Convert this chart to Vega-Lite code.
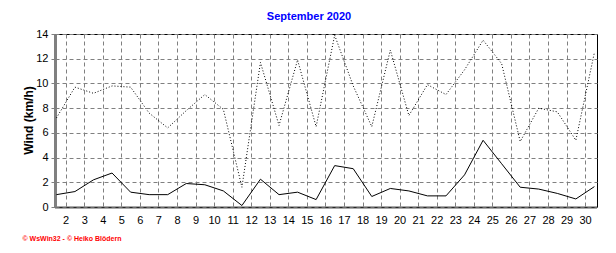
{
  "$schema": "https://vega.github.io/schema/vega-lite/v6.json",
  "autosize": "none",
  "width": 542,
  "height": 173,
  "padding": {"left": 55, "top": 34, "right": 19, "bottom": 46},
  "background": "white",
  "title": {
    "text": "September 2020",
    "color": "#0000FF",
    "font": "Liberation Sans",
    "fontSize": 11,
    "fontWeight": "bold",
    "anchor": "middle",
    "dx": -17,
    "offset": 6
  },
  "config": {
    "view": {"stroke": "#000000", "strokeWidth": 1},
    "axis": {
      "labelFont": "Liberation Sans",
      "labelFontSize": 11,
      "labelColor": "#000000",
      "labelOverlap": false,
      "labelFlush": false,
      "titleFont": "Liberation Sans",
      "gridColor": "#808080",
      "gridDash": [4, 3],
      "gridOpacity": 1,
      "gridWidth": 1
    },
    "axisY": {
      "tickColor": "#808080",
      "tickSize": 4,
      "labelPadding": 3,
      "labelBaseline": "middle",
      "domainColor": "#808080",
      "domainWidth": 3,
      "titleFontSize": 12,
      "titleFontWeight": "bold",
      "titleColor": "#000000",
      "titleAngle": -90,
      "titleAlign": "center",
      "titleBaseline": "middle",
      "titleX": -27,
      "titleY": 86
    }
  },
  "datasets": {
    "wind": [
      {"day": 1, "gust": 7.2, "avg": 1.0},
      {"day": 2, "gust": 9.7, "avg": 1.25},
      {"day": 3, "gust": 9.2, "avg": 2.2},
      {"day": 4, "gust": 9.8, "avg": 2.75},
      {"day": 5, "gust": 9.7, "avg": 1.2},
      {"day": 6, "gust": 7.6, "avg": 1.0},
      {"day": 7, "gust": 6.4, "avg": 1.0},
      {"day": 8, "gust": 7.8, "avg": 1.9},
      {"day": 9, "gust": 9.1, "avg": 1.8},
      {"day": 10, "gust": 7.9, "avg": 1.3},
      {"day": 11, "gust": 1.6, "avg": 0.12},
      {"day": 12, "gust": 11.7, "avg": 2.25},
      {"day": 13, "gust": 6.6, "avg": 1.0},
      {"day": 14, "gust": 11.9, "avg": 1.2},
      {"day": 15, "gust": 6.5, "avg": 0.6},
      {"day": 16, "gust": 13.9, "avg": 3.35},
      {"day": 17, "gust": 9.8, "avg": 3.1},
      {"day": 18, "gust": 6.5, "avg": 0.85},
      {"day": 19, "gust": 12.7, "avg": 1.5},
      {"day": 20, "gust": 7.4, "avg": 1.3},
      {"day": 21, "gust": 9.9, "avg": 0.9},
      {"day": 22, "gust": 9.1, "avg": 0.9},
      {"day": 23, "gust": 11.1, "avg": 2.6},
      {"day": 24, "gust": 13.5, "avg": 5.4},
      {"day": 25, "gust": 11.6, "avg": 3.5},
      {"day": 26, "gust": 5.3, "avg": 1.6},
      {"day": 27, "gust": 8.0, "avg": 1.45},
      {"day": 28, "gust": 7.7, "avg": 1.1},
      {"day": 29, "gust": 5.4, "avg": 0.65},
      {"day": 30, "gust": 12.5, "avg": 1.65}
    ]
  },
  "data": {"name": "wind"},
  "encoding": {
    "x": {
      "field": "day",
      "type": "quantitative",
      "scale": {"domain": [0.925, 30.14], "nice": false, "zero": false},
      "axis": {
        "values": [1.5, 2.5, 3.5, 4.5, 5.5, 6.5, 7.5, 8.5, 9.5, 10.5, 11.5, 12.5, 13.5, 14.5, 15.5, 16.5, 17.5, 18.5, 19.5, 20.5, 21.5, 22.5, 23.5, 24.5, 25.5, 26.5, 27.5, 28.5, 29.5],
        "labelExpr": "format(datum.value + 0.5, 'd')",
        "labelPadding": 7,
        "ticks": false,
        "domainColor": "#555555",
        "domainWidth": 3,
        "domainDash": [1, 1],
        "title": "\u00a9 WsWin32  -  \u00a9 Heiko Bl\u00f6dern",
        "titleColor": "#FF0000",
        "titleFontSize": 7,
        "titleFontWeight": "bold",
        "titleAnchor": "start",
        "titleAlign": "left",
        "titleBaseline": "middle",
        "titleX": -33,
        "titleY": 31.5
      }
    }
  },
  "layer": [
    {
      "mark": {"type": "line", "color": "#000000", "strokeWidth": 1, "strokeDash": [1, 2]},
      "encoding": {
        "y": {
          "field": "gust",
          "type": "quantitative",
          "title": "Wind  (km/h)",
          "scale": {"domain": [0, 14], "nice": false}
        }
      }
    },
    {
      "mark": {"type": "line", "color": "#000000", "strokeWidth": 1},
      "encoding": {
        "y": {"field": "avg", "type": "quantitative", "title": "Wind  (km/h)"}
      }
    }
  ],
  "resolve": {"axis": {"y": "shared"}}
}
